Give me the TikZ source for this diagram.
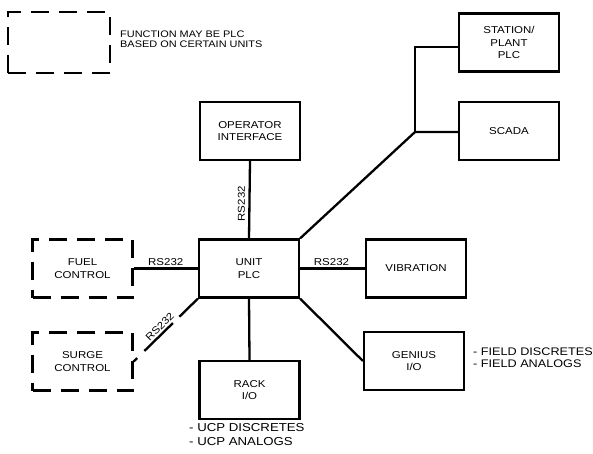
\documentclass[tikz,border=0pt]{standalone}
\usepackage{fontspec}
\setmainfont{Liberation Sans}
\newfontfamily\wideface[FakeStretch=1.15]{Liberation Sans}
\tikzset{
  plcbox/.style={draw, line width=2.2pt, minimum width=100pt, minimum height=58pt,
    align=center, font=\wideface\fontsize{10}{12.5}\selectfont, inner sep=1pt},
  dashbox/.style={plcbox, dash pattern=on 18pt off 10pt},
  bus/.style={line width=2.3pt},
  tag/.style={font=\wideface\fontsize{10}{12}\selectfont, inner sep=1pt},
  notes/.style={align=left, inner sep=0pt}
}
\begin{document}
\begin{tikzpicture}[x=1pt, y=-1pt]
  \useasboundingbox (0,0) rectangle (593,454);

  % -- Legend --
  \node[dashbox, minimum width=102pt, minimum height=61pt] (legend) at (59,42.5) {};
  \node[anchor=west, align=left, font=\wideface\fontsize{9.5}{10.5}\selectfont, inner sep=0pt]
    (legtext) at (120,39) {FUNCTION MAY BE PLC\\BASED ON CERTAIN UNITS};

  % -- Central unit --
  \node[plcbox] (unit) at (249,268.5) {UNIT\\PLC};

  % -- Surrounding units --
  \node[plcbox] (oper) at (250,131) {OPERATOR\\INTERFACE};
  \node[plcbox] (station) at (509,42.5) {STATION/\\PLANT\\PLC};
  \node[plcbox] (scada) at (509,131) {SCADA};
  \node[plcbox] (vib) at (416,268.5) {VIBRATION};
  \node[plcbox] (genius) at (414,361) {GENIUS\\I/O};
  \node[plcbox] (rack) at (249.5,390) {RACK\\I/O};
  \node[dashbox] (fuel) at (82.5,268.5) {FUEL\\CONTROL};
  \node[dashbox] (surge) at (82.5,361.5) {SURGE\\CONTROL};

  % -- Links --
  \draw[bus] (oper.south) -- (unit.north)
    node[tag, midway, rotate=90, xshift=-4pt, yshift=8pt] (rsoper) {RS232};
  \draw[bus] (fuel.east) -- (unit.west)
    node[tag, midway, above, yshift=1pt] (rsfuel) {RS232};
  \draw[bus] (unit.east) -- (vib.west)
    node[tag, midway, above, yshift=1pt, xshift=-1pt] (rsvib) {RS232};
  \draw[bus, dash pattern=on 5pt off 10pt on 40pt off 9pt on 40pt] (surge.east) -- (unit.south west)
    node[tag, pos=0.48, sloped, above, yshift=1pt] (rssurge) {RS232};
  \draw[bus] (unit.south) -- (rack.north);
  \draw[bus] (unit.south east) -- (genius.west);

  % -- Plant bus --
  \coordinate (fork) at (415,132);
  \draw[bus] (unit.north east) -- (fork) -- (scada.west |- fork);
  \draw[bus] (fork) -- (415,47) -- (station.west |- 0,47);

  % -- I/O notes --
  \node[notes, anchor=north west, font=\wideface\fontsize{11.5}{14.5}\selectfont]
    (racknote) at (189,423) {- UCP DISCRETES\\- UCP ANALOGS};
  \node[notes, anchor=west, font=\wideface\fontsize{11}{11.5}\selectfont]
    (geniusnote) at (473,357.5) {- FIELD DISCRETES\\- FIELD ANALOGS};
\end{tikzpicture}
\end{document}
